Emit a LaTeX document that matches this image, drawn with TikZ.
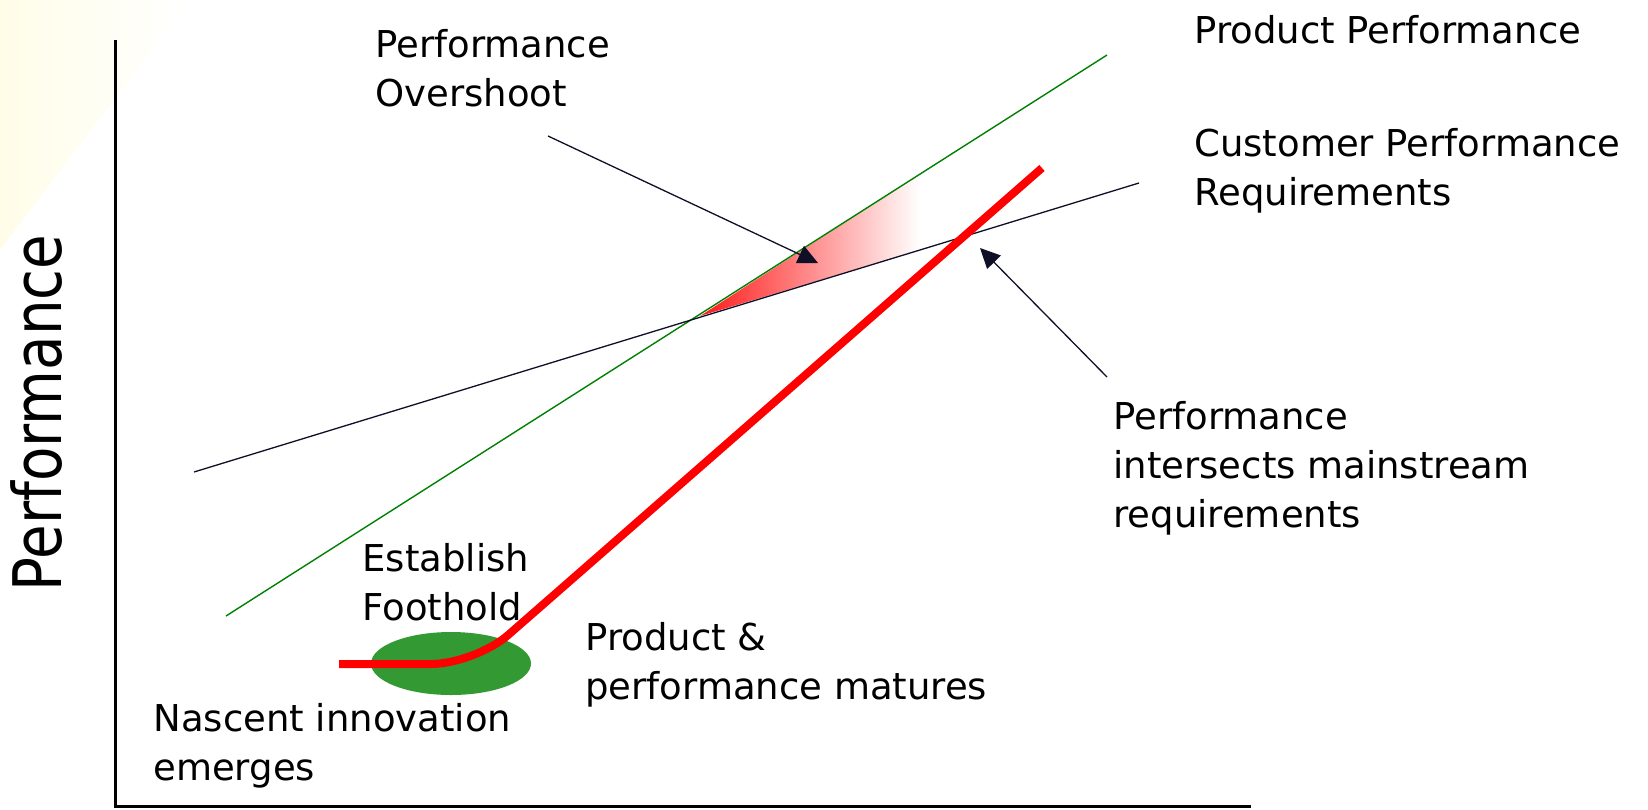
\documentclass[tikz,border=0pt]{standalone}
\usepackage{fontspec}
\usepackage{graphicx}
\setmainfont{DejaVu Sans}
\usetikzlibrary{arrows.meta,shapes.geometric}
\definecolor{navy}{RGB}{15,15,40}
\definecolor{lineGreen}{RGB}{0,128,0}
\definecolor{blobGreen}{RGB}{51,153,51}
\definecolor{glow}{RGB}{255,253,232}
\begin{document}
\begin{tikzpicture}[x=0.5pt,y=-0.5pt,
  txt/.style={font=\fontsize{18.5}{24.5}\selectfont, inner sep=0pt, align=left, anchor=base west},
  pointer/.style={draw=navy, line width=0.65pt, -{Triangle[length=10pt,width=9.5pt]}},
]
\useasboundingbox (0,0) rectangle (1648,809);

% faint glow in the upper left corner
\shade[left color=glow, right color=white] (0,0) -- (190,0) -- (0,250) -- cycle;

% overshoot wedge between the two trend lines
\shade[left color=red!90, right color=white] (700,316) -- (920,174) -- (920,250) -- cycle;

% trend lines
\coordinate (pp0) at (226,616);
\coordinate (pp1) at (1107,55);
\coordinate (cr0) at (194,472);
\coordinate (cr1) at (1139,183);
\draw[lineGreen, line width=0.7pt] (pp0) -- (pp1);
\draw[navy, line width=0.65pt] (cr0) -- (cr1);

% foothold blob and the disruptive path
\node[ellipse, fill=blobGreen, inner sep=0pt, minimum width=80pt, minimum height=31.5pt] (blob) at (451,663.5) {};
\coordinate (path0) at (339,664);
\coordinate (pathKnee) at (475,664);
\coordinate (path1) at (1042,168);
\draw[red, line width=4pt, rounded corners=22pt] (path0) -- (pathKnee) -- (path1);

% axes
\coordinate (axTop) at (115,40);
\coordinate (axOrigin) at (115,806);
\coordinate (axRight) at (1251,806);
\draw[line width=1.5pt] (axTop) -- (axOrigin) -- (axRight);

% callout arrows
\coordinate (osTail) at (548,136);
\coordinate (osTip) at (818,263);
\draw[pointer] (osTail) -- (osTip);
\coordinate (isTail) at (1107,377);
\coordinate (isTip) at (980,248);
\draw[pointer] (isTail) -- (isTip);

% labels (anchored at the baseline of their last line)
\node[txt] (prodPerf) at (1194,43) {Product Performance};
\node[txt] (custReq) at (1194,205) {Customer Performance\\Requirements};
\node[txt] (overshoot) at (375,106) {Performance\\Overshoot};
\node[txt] (intersects) at (1113,527) {Performance\\intersects mainstream\\requirements};
\node[txt] (foothold) at (362,620) {Establish\\Foothold};
\node[txt] (matures) at (585,699) {Product \&\\performance matures};
\node[txt] (nascent) at (153,780) {Nascent innovation\\emerges};
\node[font=\fontsize{33.5}{40}\selectfont, rotate=90, anchor=base, inner sep=0pt] (yLabel) at (61,413) {\scalebox{0.84}[1]{Performance}};
\end{tikzpicture}
\end{document}
